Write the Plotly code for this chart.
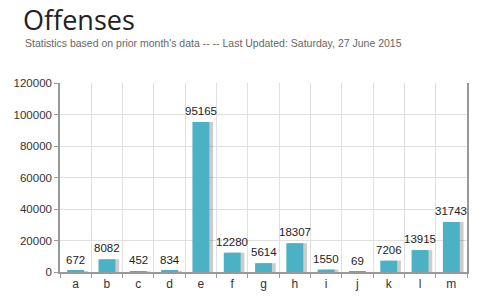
import plotly.graph_objects as go

categories = ["a", "b", "c", "d", "e", "f", "g", "h", "i", "j", "k", "l", "m"]
values = [672, 8082, 452, 834, 95165, 12280, 5614, 18307, 1550, 69, 7206, 13915, 31743]
y_ticks = [0, 20000, 40000, 60000, 80000, 100000, 120000]

title_text = "Offenses"
subtitle_text = "Statistics based on prior month's data -- -- Last Updated: Saturday, 27 June 2015"

BAR_W = 0.54
fig = go.Figure()
# soft shadow behind each bar
fig.add_trace(go.Bar(
    x=categories, y=values, width=BAR_W, offset=-BAR_W / 2 + 0.12,
    marker=dict(color="rgba(0,0,0,0.2)", line=dict(width=0)),
    hoverinfo="skip", showlegend=False,
))
fig.add_trace(go.Bar(
    x=categories, y=values, width=BAR_W, offset=-BAR_W / 2,
    marker=dict(color="#4bb2c5", line=dict(width=0)),
    showlegend=False,
))

label_font = dict(family="Liberation Sans, Arial, sans-serif", size=11.5, color="#222")
annotations = [
    dict(x=c, y=v, xref="x", yref="y", text=str(v), showarrow=False,
         yanchor="bottom", yshift=3, font=label_font)
    for c, v in zip(categories, values)
]
annotations += [
    dict(text=title_text, xref="paper", yref="paper",
         x=(22 - 60) / 409, y=1 + 83 / 189, xanchor="left", yanchor="top",
         showarrow=False, borderpad=0,
         font=dict(family="Open Sans, sans-serif", size=27, color="#222")),
    dict(text=subtitle_text, xref="paper", yref="paper",
         x=(23 - 60) / 409, y=1 + (83 - 43) / 189, xanchor="left", yanchor="middle",
         showarrow=False,
         font=dict(family="Liberation Sans, Arial, sans-serif", size=10.5, color="#666")),
]

fig.update_layout(
    width=480, height=304,
    margin=dict(l=60, r=11, t=83, b=32),
    paper_bgcolor="white", plot_bgcolor="white",
    barmode="overlay",
    font=dict(family="Liberation Sans, Arial, sans-serif", color="#333"),
    annotations=annotations,
)
fig.update_xaxes(
    type="category", tickson="boundaries",
    showgrid=True, gridcolor="#e0e0e0", gridwidth=1,
    showline=True, linecolor="#999", linewidth=1.5,
    ticks="outside", ticklen=4, tickcolor="#999",
    tickfont=dict(size=12, color="#333"),
    range=[-0.5, 12.5], fixedrange=True,
)
fig.update_yaxes(
    range=[0, 120000], tickvals=y_ticks, ticktext=[str(t) for t in y_ticks],
    showgrid=True, gridcolor="#e0e0e0", gridwidth=1,
    showline=True, linecolor="#999", linewidth=1.5, mirror=True,
    ticks="outside", ticklen=4, tickcolor="#999",
    tickfont=dict(size=11.5, color="#333"), zeroline=False,
)

fig.write_html("out.html")
